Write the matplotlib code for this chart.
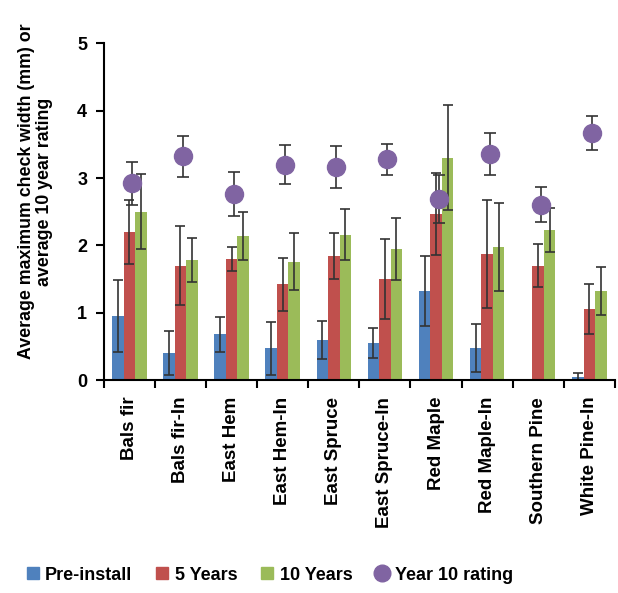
import matplotlib.pyplot as plt
import numpy as np
from matplotlib.lines import Line2D

species = ['Bals fir', 'Bals fir-In', 'East Hem', 'East Hem-In', 'East Spruce',
           'East Spruce-In', 'Red Maple', 'Red Maple-In', 'Southern Pine', 'White Pine-In']

pre = [0.95, 0.40, 0.68, 0.47, 0.60, 0.55, 1.32, 0.48, 0.0, 0.05]
pre_err = [0.54, 0.33, 0.26, 0.40, 0.28, 0.22, 0.52, 0.36, 0.0, 0.05]
y5 = [2.20, 1.70, 1.80, 1.42, 1.84, 1.50, 2.46, 1.87, 1.70, 1.05]
y5_err = [0.48, 0.59, 0.18, 0.39, 0.34, 0.60, 0.61, 0.80, 0.32, 0.37]
y10 = [2.50, 1.78, 2.14, 1.76, 2.16, 1.94, 3.30, 1.98, 2.23, 1.32]
y10_err = [0.56, 0.33, 0.36, 0.42, 0.38, 0.46, 0.78, 0.65, 0.33, 0.36]
rating = [2.92, 3.32, 2.76, 3.20, 3.16, 3.28, 2.69, 3.36, 2.60, 3.67]
rating_err = [0.32, 0.31, 0.33, 0.29, 0.31, 0.23, 0.36, 0.31, 0.26, 0.25]

plt.rcParams['font.family'] = 'Liberation Sans'
plt.rcParams['font.weight'] = 'bold'

fig = plt.figure(figsize=(6.18, 5.93), dpi=100)
ax = fig.add_axes([0.168, 0.359, 0.827, 0.568])

x = np.arange(len(species))
w = 0.225
ekw = dict(ecolor='#333333', elinewidth=1.2, capsize=3.5, capthick=1.2)
ax.bar(x - w, pre, w, yerr=pre_err, color='#4F81BD', error_kw=ekw)
ax.bar(x, y5, w, yerr=y5_err, color='#C0504D', error_kw=ekw)
ax.bar(x + w, y10, w, yerr=y10_err, color='#9BBB59', error_kw=ekw)
ax.errorbar(x + 0.05, rating, yerr=rating_err, fmt='o', color='#8064A2', ms=13,
            ecolor='#333333', elinewidth=1.2, capsize=4, capthick=1.2)

ax.set_xlim(-0.5, len(species) - 0.5)
ax.set_ylim(0, 5)
ax.set_yticks([0, 1, 2, 3, 4, 5])
ax.set_xticks(x)
ax.set_xticklabels(species, rotation=90, fontsize=13.5, fontweight='bold')
ax.set_xticks(np.arange(len(species) + 1) - 0.5, minor=True)
ax.tick_params(axis='x', which='major', length=0, pad=12)
ax.tick_params(axis='x', which='minor', length=6, width=1.5, direction='out')
ax.tick_params(axis='y', labelsize=13, length=6, width=1.5, direction='out', pad=6)
for lab in ax.get_yticklabels():
    lab.set_fontweight('bold')
ax.spines['top'].set_visible(False)
ax.spines['right'].set_visible(False)
ax.spines['left'].set_linewidth(1.5)
ax.spines['bottom'].set_linewidth(1.5)
ax.set_ylabel('Average maximum check width (mm) or\naverage 10 year rating',
              fontsize=12.8, fontweight='bold', linespacing=1.05)
ax.yaxis.set_label_coords(-0.10, 0.56)

handles = [Line2D([], [], marker='s', ls='', color='#4F81BD', ms=8),
           Line2D([], [], marker='s', ls='', color='#C0504D', ms=8),
           Line2D([], [], marker='s', ls='', color='#9BBB59', ms=8),
           Line2D([], [], marker='o', ls='', color='#8064A2', ms=12)]
fig.legend(handles, ['Pre-install', '5 Years', '10 Years', 'Year 10 rating'],
           loc='center', bbox_to_anchor=(0.435, 0.03), ncol=4, frameon=False,
           fontsize=13, handletextpad=0.25, columnspacing=1.2, handlelength=0.9)

fig.savefig('out.png', dpi=100)
